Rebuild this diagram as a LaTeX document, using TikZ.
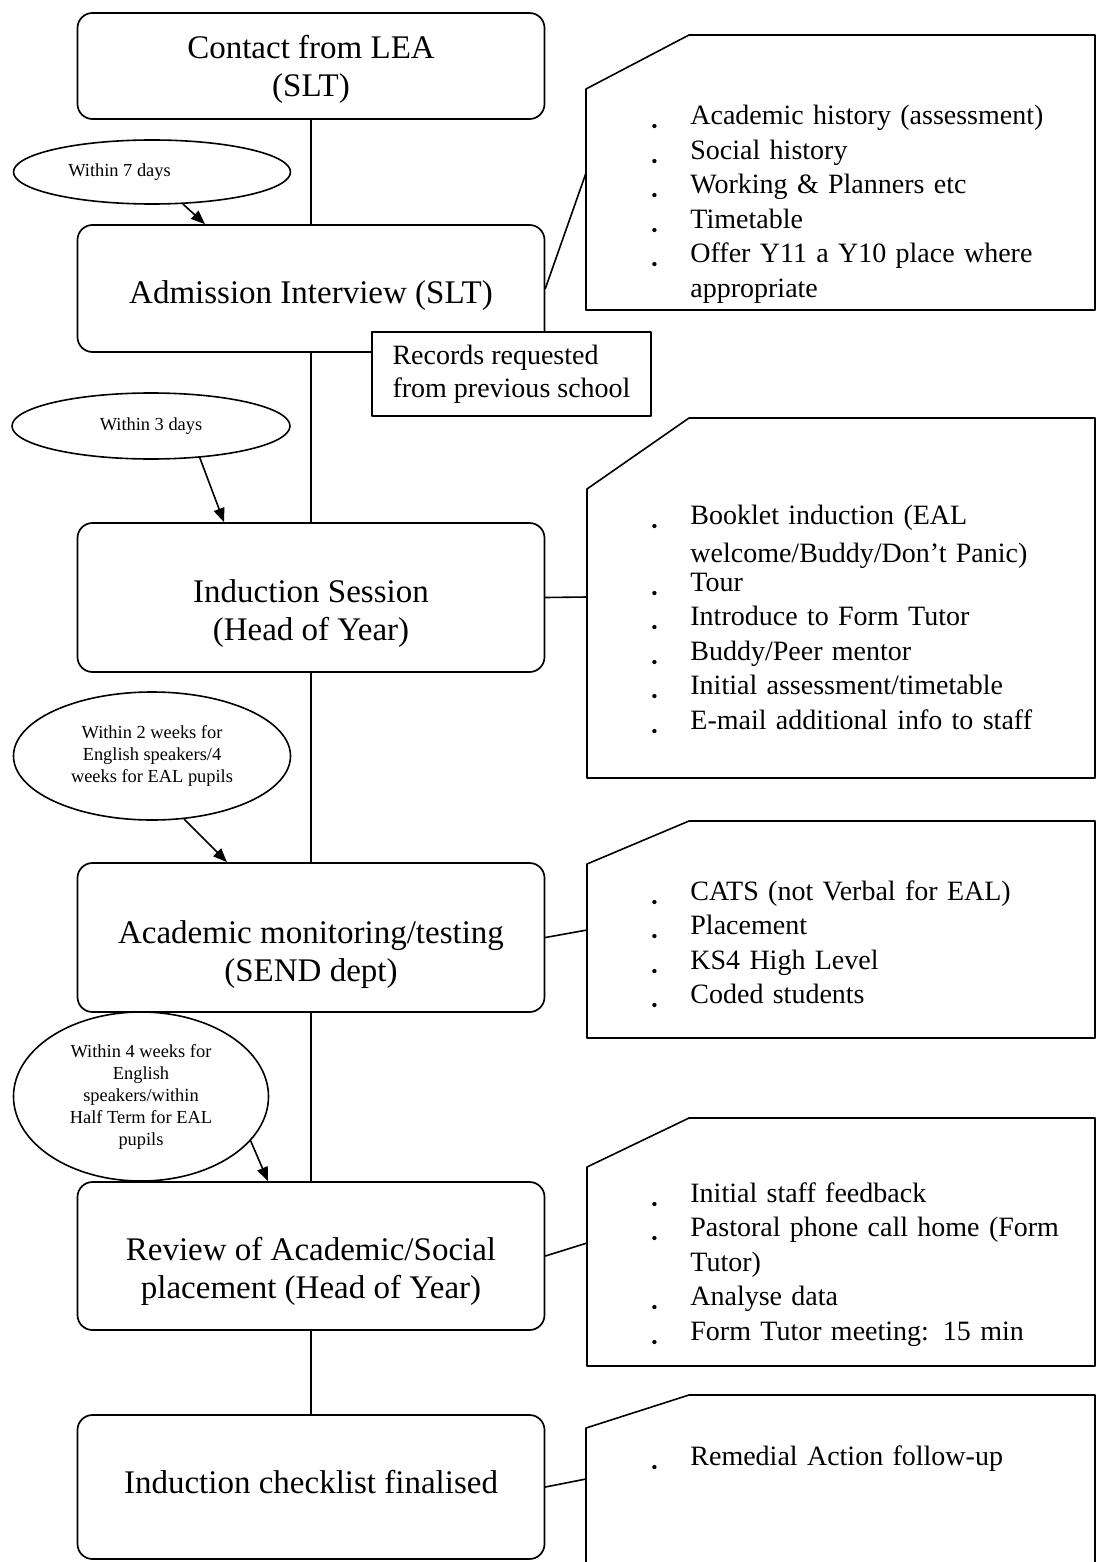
\documentclass[tikz,border=0pt]{standalone}
\usepackage{fontspec}
\setmainfont{Liberation Serif}
\usetikzlibrary{arrows.meta,calc,shapes.geometric}

\newcommand{\blt}{\leavevmode\llap{\raisebox{-4pt}{\fontsize{9}{9}\selectfont\textbullet}\hspace{16.4pt}}}
\newcommand{\lowered}[2]{\raisebox{-#1}[\height][\depth]{\begin{tabular}{@{}c@{}}#2\end{tabular}}}

\begin{document}
\begin{tikzpicture}[line cap=round,line join=round,>={Triangle[length=7pt,width=5.5pt]},x=0.5pt,y=-0.5pt,
	stage/.style={draw,line width=0.85pt,rounded corners=7.5pt,fill=white,minimum width=233.5pt,inner sep=0pt,font=\fontsize{16.5}{19}\selectfont},
	oval/.style={draw,ellipse,line width=0.8pt,fill=white,inner sep=0pt,align=center,font=\fontsize{9.2}{11}\selectfont},
	items/.style={inner sep=0pt,text width=200pt,align=left,anchor=base west,font=\fontsize{14}{17.25}\selectfont},
	notebox/.style={draw,line width=0.8pt},
	link/.style={line width=0.8pt}]
	\useasboundingbox (0,0) rectangle (1097,1562);
	\node[stage,minimum height=53pt] (contact) at (311,66) {\lowered{1.85pt}{Contact from LEA\\(SLT)}};
	\node[stage,minimum height=63.5pt] (admit) at (311,288.5) {\lowered{3.85pt}{Admission Interview (SLT)}};
	\node[stage,minimum height=74.5pt] (induct) at (311,597.5) {\lowered{8.35pt}{Induction Session\\(Head of Year)}};
	\node[stage,minimum height=74.5pt] (monitor) at (311,937.5) {\lowered{8.6pt}{Academic monitoring/testing\\(SEND dept)}};
	\node[stage,minimum height=74pt] (review) at (311,1256) {\lowered{8.1pt}{Review of Academic/Social\\placement (Head of Year)}};
	\node[stage,minimum height=72pt] (final) at (311,1487) {\lowered{-0.4pt}{Induction checklist finalised}};
	\draw[link] (contact) -- (admit);
	\draw[link] (admit) -- (induct);
	\draw[link] (induct) -- (monitor);
	\draw[link] (monitor) -- (review);
	\draw[link] (review) -- (final);
	\node[draw,line width=0.8pt,fill=white,minimum width=139.5pt,minimum height=42pt,align=left,font=\fontsize{14}{16.5}\selectfont] (records) at (511.5,374) {Records requested\\from previous school};
	\node[oval,minimum width=138.5pt,minimum height=32pt] (days7) at (152,172) {\makebox[0pt]{\hspace*{-32.5pt}Within 7 days}};
	\node[oval,minimum width=139pt,minimum height=33pt] (days3) at (151,426) {Within 3 days};
	\node[oval,minimum width=138.5pt,minimum height=64pt] (weeks2) at (152,756) {Within 2 weeks for\\English speakers/4\\weeks for EAL pupils};
	\node[oval,minimum width=127.5pt,minimum height=84.5pt] (weeks4) at (141,1096.5) {Within 4 weeks for\\English\\speakers/within\\Half Term for EAL\\pupils};
	\draw[link,->] (days7.-46) -- ($(admit.north)+(-106,0)$);
	\draw[link,->] (days3.-33) -- ($(induct.north)+(-87,0)$);
	\draw[link,->] (weeks2.-63) -- ($(monitor.north)+(-84,0)$);
	\draw[link,->] (weeks4.-22) -- ($(review.north)+(-43,0)$);
	\draw[notebox] (586,89) -- (689,35) -- (1095,35) -- (1095,310) -- (586,310) -- cycle;
	\coordinate (note1) at (586,173);
	\node[items] (list1) at (690,125) {\blt Academic history (assessment)\\ \blt Social history\\ \blt Working \& Planners etc\\ \blt Timetable\\ \blt Offer Y11 a Y10 place where\\ appropriate};
	\draw[link] (admit.east) -- (note1);
	\draw[notebox] (587,489) -- (689,418) -- (1095,418) -- (1095,778) -- (587,778) -- cycle;
	\coordinate (note2) at (587,597);
	\node[items] (list2) at (690,524) {\blt Booklet induction (EAL\\[1.75pt] welcome/Buddy/Don’t Panic)\\[-2.75pt] \blt Tour\\ \blt Introduce to Form Tutor\\ \blt Buddy/Peer mentor\\ \blt Initial assessment/timetable\\ \blt E-mail additional info to staff};
	\draw[link] (induct.east) -- (note2);
	\draw[notebox] (587,864) -- (689,821) -- (1095,821) -- (1095,1038) -- (587,1038) -- cycle;
	\coordinate (note3) at (587,930);
	\node[items] (list3) at (690,900) {\blt CATS (not Verbal for EAL)\\ \blt Placement\\ \blt KS4 High Level\\ \blt Coded students};
	\draw[link] (monitor.east) -- (note3);
	\draw[notebox] (587,1167) -- (689,1118) -- (1095,1118) -- (1095,1366) -- (587,1366) -- cycle;
	\coordinate (note4) at (587,1243);
	\node[items] (list4) at (690,1202) {\blt Initial staff feedback\\ \blt Pastoral phone call home (Form\\ Tutor)\\ \blt Analyse data\\ \blt Form Tutor meeting: 15 min};
	\draw[link] (review.east) -- (note4);
	\draw[notebox] (586,1600) -- (586,1428) -- (689,1395) -- (1095,1395) -- (1095,1600);
	\coordinate (note5) at (586,1479);
	\node[items] (list5) at (690,1465) {\blt Remedial Action follow-up};
	\draw[link] (final.east) -- (note5);
\end{tikzpicture}
\end{document}
